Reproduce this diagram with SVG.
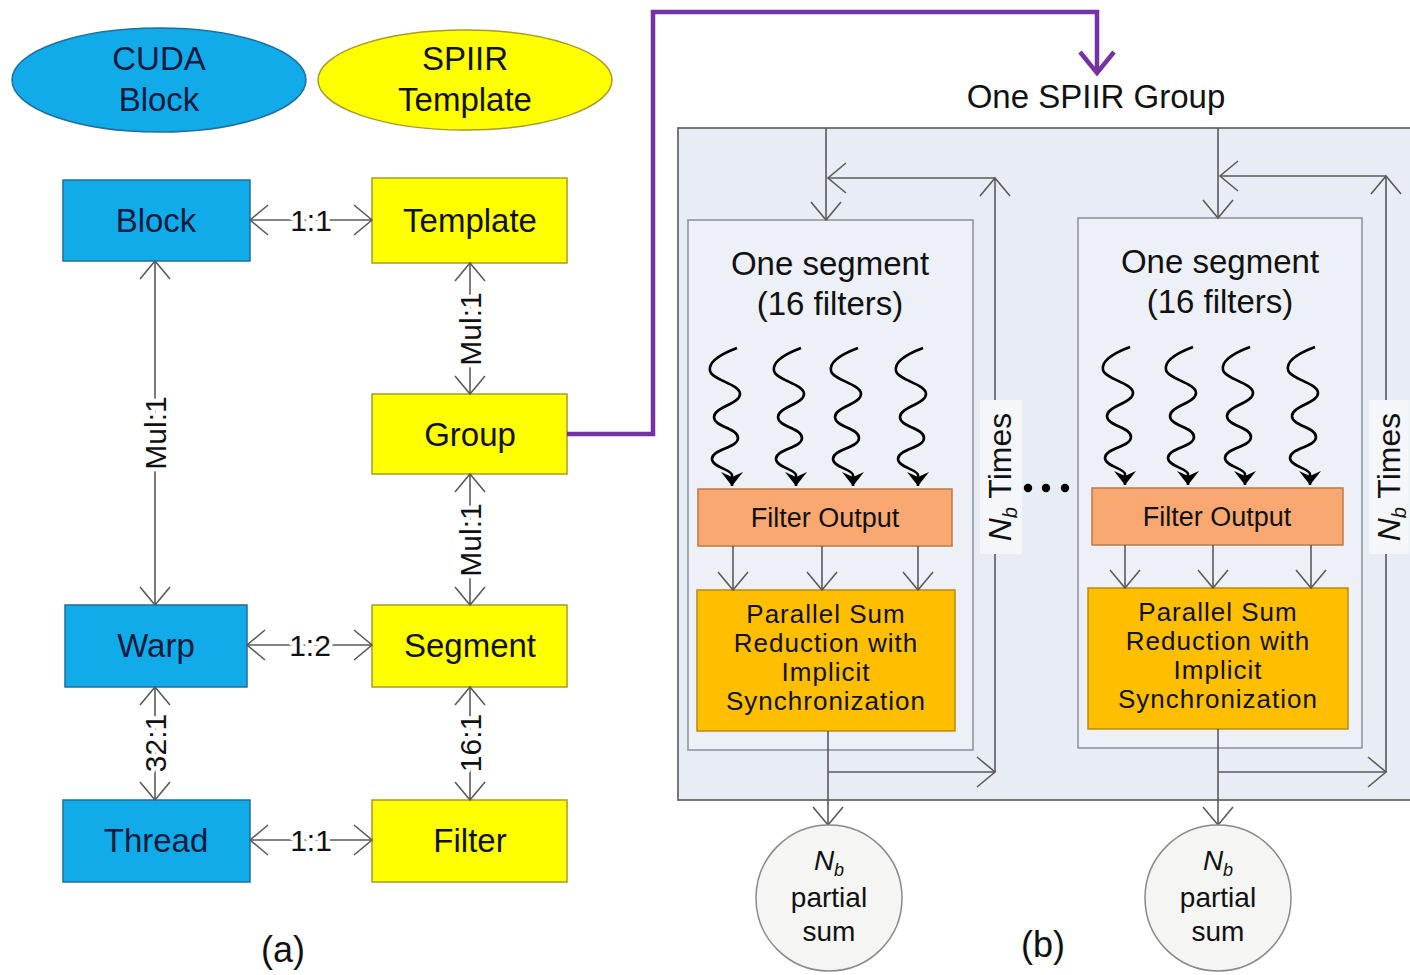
<svg xmlns="http://www.w3.org/2000/svg" width="1410" height="975" viewBox="0 0 1410 975">
<style>
text{font-family:"Liberation Sans",Arial,sans-serif;fill:#111}
.lbl{font-size:33px;text-anchor:middle}
.bt{fill:#0c1a3e}
.rel{font-size:30px;text-anchor:middle;stroke:#fff;stroke-width:8px;paint-order:stroke;stroke-linejoin:round}
.blue{fill:#12abea;stroke:#1f6f9c;stroke-width:1.5}
.yel{fill:#ffff00;stroke:#a89a2a;stroke-width:1.5}
.con{stroke:#5a5a5a;stroke-width:1.6;fill:none}
.bi{marker-start:url(#op);marker-end:url(#op)}
.one{marker-end:url(#op)}
.wave{stroke:#000;stroke-width:2.6;fill:none;marker-end:url(#fa)}
.seg{fill:#edf0f7;stroke:#8a8f99;stroke-width:1.5}
.fo{fill:#f8a870;stroke:#b97a45;stroke-width:1.5}
.psr{fill:#ffbf00;stroke:#b98a10;stroke-width:1.5}
.t28{font-size:28px;text-anchor:middle}
.t26{font-size:26px;text-anchor:middle;letter-spacing:1px}
.t27{font-size:27px;text-anchor:middle}
.t33{font-size:33px;text-anchor:middle}
.nt{font-size:32px;text-anchor:middle}
.circ{fill:#f5f5f3;stroke:#8a8a8a;stroke-width:1.5}
</style>
<defs>
<marker id="op" viewBox="-20 -17 22 34" refX="0" refY="0" markerWidth="22" markerHeight="34" markerUnits="userSpaceOnUse" orient="auto-start-reverse">
<path d="M-18,-15 L0,0 L-18,15" fill="none" stroke="#5a5a5a" stroke-width="1.6"/>
</marker>
<marker id="fa" viewBox="-16 -13 17 26" refX="0" refY="0" markerWidth="17" markerHeight="26" markerUnits="userSpaceOnUse" orient="auto">
<path d="M-14,-11 L0,0 L-14,11 L-9,0 z" fill="#000"/>
</marker>
<path id="w" d="M11,0 C-5,6 -18,14 -16,23 C-14,32 14,36 14,46 C14,56 -12,59 -12,69 C-12,79 12,80 12,90 C12,100 -14,101 -14,111 C-14,119 6,122 6,127 L6,138"/>
</defs>
<rect width="1410" height="975" fill="#fff"/>

<g id="legend-cuda">
<ellipse cx="159" cy="80" rx="147" ry="52" class="blue"/>
<text class="lbl bt" x="159" y="70">CUDA</text>
<text class="lbl bt" x="159" y="111">Block</text>
</g>
<g id="legend-spiir">
<ellipse cx="465" cy="80" rx="147" ry="50" class="yel"/>
<text class="lbl" x="465" y="70">SPIIR</text>
<text class="lbl" x="465" y="111">Template</text>
</g>

<g id="block"><rect x="63" y="180" width="187" height="81" class="blue"/><text class="lbl bt" x="156" y="232">Block</text></g>
<g id="template"><rect x="372" y="178" width="195" height="85" class="yel"/><text class="lbl" x="470" y="232">Template</text></g>
<g id="group"><rect x="372" y="394" width="195" height="80" class="yel"/><text class="lbl" x="470" y="446">Group</text></g>
<g id="warp"><rect x="65" y="605" width="182" height="82" class="blue"/><text class="lbl bt" x="156" y="657">Warp</text></g>
<g id="segment"><rect x="372" y="605" width="195" height="82" class="yel"/><text class="lbl" x="470" y="657">Segment</text></g>
<g id="thread"><rect x="63" y="800" width="187" height="82" class="blue"/><text class="lbl bt" x="156" y="852">Thread</text></g>
<g id="filter"><rect x="372" y="800" width="195" height="82" class="yel"/><text class="lbl" x="470" y="852">Filter</text></g>

<g id="connectors-a">
<line x1="250" y1="220" x2="372" y2="220" class="con bi"/>
<text class="rel" x="311" y="231">1:1</text>
<line x1="155" y1="261" x2="155" y2="605" class="con bi"/>
<text class="rel" transform="translate(155,433) rotate(-90)" x="0" y="11">Mul:1</text>
<line x1="470" y1="263" x2="470" y2="394" class="con bi"/>
<text class="rel" transform="translate(470,329) rotate(-90)" x="0" y="11">Mul:1</text>
<line x1="470" y1="474" x2="470" y2="605" class="con bi"/>
<text class="rel" transform="translate(470,540) rotate(-90)" x="0" y="11">Mul:1</text>
<line x1="247" y1="645" x2="372" y2="645" class="con bi"/>
<text class="rel" x="310" y="656">1:2</text>
<line x1="155" y1="687" x2="155" y2="800" class="con bi"/>
<text class="rel" transform="translate(155,743) rotate(-90)" x="0" y="11">32:1</text>
<line x1="470" y1="687" x2="470" y2="800" class="con bi"/>
<text class="rel" transform="translate(470,743) rotate(-90)" x="0" y="11">16:1</text>
<line x1="250" y1="840" x2="372" y2="840" class="con bi"/>
<text class="rel" x="311" y="851">1:1</text>
</g>

<g id="purple-link">
<path d="M567,434 H653 V12 H1097 V72" fill="none" stroke="#7433a3" stroke-width="4.5"/>
<path d="M1080,52 L1097,73 L1114,52" fill="none" stroke="#7433a3" stroke-width="4.5"/>
</g>

<g id="spiir-group">
<text x="1096" y="108" style="font-size:33px;text-anchor:middle">One SPIIR Group</text>
<rect x="678" y="128" width="740" height="672" fill="#e8ecf4" stroke="#6a6a6a" stroke-width="1.8"/>
</g>

<g id="segment-left">
<rect x="688" y="220" width="285" height="530" class="seg"/>
<text class="t33" x="830" y="275">One segment</text>
<text class="t33" x="830" y="315">(16 filters)</text>
<rect x="698" y="489" width="254" height="57" class="fo"/>
<text class="t27" x="825" y="527">Filter Output</text>
<rect x="697" y="590" width="258" height="141" class="psr"/>
<text class="t26" x="826" y="623">Parallel Sum</text>
<text class="t26" x="826" y="652">Reduction with</text>
<text class="t26" x="826" y="681">Implicit</text>
<text class="t26" x="826" y="710">Synchronization</text>
</g>

<g id="segment-right">
<rect x="1078" y="218" width="284" height="530" class="seg"/>
<text class="t33" x="1220" y="273">One segment</text>
<text class="t33" x="1220" y="313">(16 filters)</text>
<rect x="1092" y="488" width="251" height="57" class="fo"/>
<text class="t27" x="1217" y="526">Filter Output</text>
<rect x="1088" y="588" width="260" height="141" class="psr"/>
<text class="t26" x="1218" y="621">Parallel Sum</text>
<text class="t26" x="1218" y="650">Reduction with</text>
<text class="t26" x="1218" y="679">Implicit</text>
<text class="t26" x="1218" y="708">Synchronization</text>
</g>

<g id="waves">
<use href="#w" x="726" y="348" class="wave"/>
<use href="#w" x="790" y="348" class="wave"/>
<use href="#w" x="847" y="348" class="wave"/>
<use href="#w" x="912" y="348" class="wave"/>
<use href="#w" x="1119" y="347" class="wave"/>
<use href="#w" x="1182" y="347" class="wave"/>
<use href="#w" x="1239" y="347" class="wave"/>
<use href="#w" x="1304" y="347" class="wave"/>
</g>

<g id="connectors-b">
<line x1="826" y1="128" x2="826" y2="220" class="con one"/>
<line x1="995" y1="772" x2="995" y2="178" class="con one"/>
<line x1="995" y1="178" x2="828" y2="178" class="con one"/>
<line x1="828" y1="772" x2="995" y2="772" class="con one"/>
<line x1="828" y1="731" x2="828" y2="825" class="con one"/>
<line x1="733" y1="546" x2="733" y2="590" class="con one"/>
<line x1="822" y1="546" x2="822" y2="590" class="con one"/>
<line x1="918" y1="546" x2="918" y2="590" class="con one"/>
<line x1="1218" y1="128" x2="1218" y2="218" class="con one"/>
<line x1="1386" y1="772" x2="1386" y2="176" class="con one"/>
<line x1="1386" y1="176" x2="1220" y2="176" class="con one"/>
<line x1="1218" y1="772" x2="1386" y2="772" class="con one"/>
<line x1="1218" y1="729" x2="1218" y2="825" class="con one"/>
<line x1="1125" y1="545" x2="1125" y2="588" class="con one"/>
<line x1="1213" y1="545" x2="1213" y2="588" class="con one"/>
<line x1="1311" y1="545" x2="1311" y2="588" class="con one"/>
</g>

<g id="loop-label-left">
<rect x="980" y="400" width="42" height="154" fill="#f4f6fa"/>
<text class="nt" transform="translate(1000,477) rotate(-90)" x="0" y="11"><tspan font-style="italic">N</tspan><tspan font-style="italic" font-size="20" dy="6">b</tspan><tspan dy="-6"> Times</tspan></text>
</g>
<g id="loop-label-right">
<rect x="1369" y="400" width="40" height="154" fill="#f4f6fa"/>
<text class="nt" transform="translate(1389,477) rotate(-90)" x="0" y="11"><tspan font-style="italic">N</tspan><tspan font-style="italic" font-size="20" dy="6">b</tspan><tspan dy="-6"> Times</tspan></text>
</g>

<g id="dots">
<circle cx="1028" cy="488" r="4.2" fill="#000"/>
<circle cx="1046" cy="488" r="4.2" fill="#000"/>
<circle cx="1065" cy="488" r="4.2" fill="#000"/>
</g>

<g id="sum-left">
<circle cx="829" cy="898" r="73" class="circ"/>
<text class="t28" x="829" y="870"><tspan font-style="italic">N</tspan><tspan font-style="italic" font-size="18" dy="6">b</tspan></text>
<text class="t28" x="829" y="907">partial</text>
<text class="t28" x="829" y="941">sum</text>
</g>
<g id="sum-right">
<circle cx="1218" cy="898" r="73" class="circ"/>
<text class="t28" x="1218" y="870"><tspan font-style="italic">N</tspan><tspan font-style="italic" font-size="18" dy="6">b</tspan></text>
<text class="t28" x="1218" y="907">partial</text>
<text class="t28" x="1218" y="941">sum</text>
</g>

<text x="283" y="962" style="font-size:36px;text-anchor:middle">(a)</text>
<text x="1043" y="957" style="font-size:36px;text-anchor:middle">(b)</text>
</svg>
